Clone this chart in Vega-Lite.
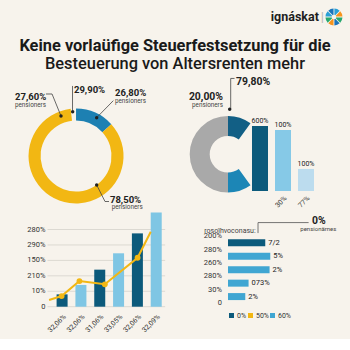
{
"$schema":"https://vega.github.io/schema/vega-lite/v6.json",
"background":"#f7f3ec",
"padding":{"left":5,"top":5,"right":5,"bottom":5},
"config":{"view":{"stroke":null},"font":"Roboto, sans-serif","axis":{"labelColor":"#333333"},"legend":{"labelColor":"#333333"}},
"datasets":{
"one":[{}],
"logo":[{"petal":"1","w":1},{"petal":"2","w":1},{"petal":"3","w":1},{"petal":"4","w":1},{"petal":"5","w":1},{"petal":"6","w":1},{"petal":"7","w":1},{"petal":"8","w":1}],
"donut":[{"slice":1,"part":"blau","share":13.3},{"slice":2,"part":"gelb","share":84.9},{"slice":3,"part":"lücke","share":1.8}],
"cshape":[{"seg":1,"part":"oben","share":10},{"seg":2,"part":"leer","share":30},{"seg":3,"part":"unten","share":10},{"seg":4,"part":"grau","share":50}],
"bars2":[{"tick":" ","value":3.1,"top":"600%"},{"tick":"30%","value":2.9,"top":"100%"},{"tick":"77%","value":1.05,"top":"100%"}],
"grid3":[{"g":0,"t":"0"},{"g":1,"t":"10%"},{"g":2,"t":"210%"},{"g":3,"t":"150%"},{"g":4,"t":"290%"},{"g":5,"t":"280%"}],
"bars3":[{"n":1,"cat":"32,06%","value":0.8,"series":"0%"},{"n":2,"cat":"32,06%","value":1.41,"series":"60%"},{"n":3,"cat":"31,06%","value":2.4,"series":"0%"},{"n":4,"cat":"33,05%","value":3.46,"series":"60%"},{"n":5,"cat":"32,06%","value":4.75,"series":"0%"},{"n":6,"cat":"32,09%","value":6.1,"series":"60%"}],
"line3":[{"x":0.31,"v":0.43},{"x":0.975,"v":0.69},{"x":1.92,"v":1.66},{"x":3.27,"v":1.45},{"x":5.01,"v":3.17},{"x":5.71,"v":4.86}],
"ticks4":[{"tv":0.5,"t":"0"},{"tv":1.5,"t":"30%"},{"tv":2.5,"t":"280%"},{"tv":3.5,"t":"260%"},{"tv":4.5,"t":"280%"},{"tv":5.5,"t":"200%"}],
"bars4":[{"item":5,"value":69,"label":"7/2","series":"0%"},{"item":4,"value":78.3,"label":"5%","series":"60%"},{"item":3,"value":77,"label":"2%","series":"60%"},{"item":2,"value":38.1,"label":"073%","series":"60%"},{"item":1,"value":32,"label":"2%","series":"60%"}]
},
"columns":2,
"align":"none",
"bounds":"flush",
"spacing":{"row":1,"column":60},
"resolve":{"scale":{"color":"independent","x":"independent","y":"independent"},"legend":{"color":"independent"}},
"concat":[
{"width":160,"height":68,"data":{"name":"one"},"layer":[
 {"mark":{"type":"text","text":"Keine vorlaüfige Steuerfestsetzung für die","align":"center","baseline":"alphabetic","fontSize":16.4,"fontWeight":"bold","color":"#1a1a1a"},"encoding":{"x":{"datum":106.25,"scale":{"domain":[0,100],"nice":false,"zero":false},"axis":null},"y":{"datum":32.8,"scale":{"domain":[0,100],"nice":false,"zero":false},"axis":null}}},
 {"mark":{"type":"text","text":"Besteuerung von Altersrenten mehr","align":"center","baseline":"alphabetic","fontSize":16.4,"fontWeight":500,"color":"#1a1a1a"},"encoding":{"x":{"datum":106.25,"scale":{"domain":[0,100],"nice":false,"zero":false},"axis":null},"y":{"datum":5.9,"scale":{"domain":[0,100],"nice":false,"zero":false},"axis":null}}}
]},
{"width":120,"height":68,"data":{"name":"one"},"layer":[
 {"mark":{"type":"text","text":"ignáskat","align":"right","baseline":"alphabetic","fontSize":12.5,"fontWeight":"bold","color":"#1e1e1e"},"encoding":{"x":{"datum":75.8,"scale":{"domain":[0,100],"nice":false,"zero":false},"axis":null},"y":{"datum":76.9,"scale":{"domain":[0,100],"nice":false,"zero":false},"axis":null}}},
 {"mark":{"type":"text","text":"|","align":"center","baseline":"alphabetic","fontSize":13,"color":"#b5b5b5"},"encoding":{"x":{"datum":78.6,"scale":{"domain":[0,100],"nice":false,"zero":false},"axis":null},"y":{"datum":76.5,"scale":{"domain":[0,100],"nice":false,"zero":false},"axis":null}}},
 {"data":{"name":"logo"},"mark":{"type":"arc","outerRadius":8.5,"innerRadius":2.2,"padAngle":0.1},"encoding":{"x":{"datum":88.3,"scale":{"domain":[0,100],"nice":false,"zero":false},"axis":null},"y":{"datum":82.4,"scale":{"domain":[0,100],"nice":false,"zero":false},"axis":null},"theta":{"field":"w","type":"quantitative"},"color":{"field":"petal","type":"nominal","scale":{"range":["#2a9fd6","#f7941d","#27a86f","#1b75bc","#f7941d","#27a86f","#2a9fd6","#1b75bc"]},"legend":null}}}
]},
{"width":160,"height":136,"data":{"name":"one"},"layer":[
 {"data":{"name":"donut"},"mark":{"type":"arc","outerRadius":47.5,"innerRadius":35.5},"encoding":{"x":{"datum":44.4,"scale":{"domain":[0,100],"nice":false,"zero":false},"axis":null},"y":{"datum":39.7,"scale":{"domain":[0,100],"nice":false,"zero":false},"axis":null},"theta":{"field":"share","type":"quantitative"},"order":{"field":"slice","type":"quantitative"},"color":{"field":"part","type":"nominal","scale":{"domain":["blau","gelb","lücke"],"range":["#1d80b2","#f2b713","rgba(0,0,0,0)"]},"legend":null}}},
 {"mark":{"type":"text","text":"27,60%","align":"left","baseline":"alphabetic","fontSize":9.5,"fontWeight":"bold","color":"#222222"},"encoding":{"x":{"datum":6.25,"scale":{"domain":[0,100],"nice":false,"zero":false},"axis":null},"y":{"datum":80.9,"scale":{"domain":[0,100],"nice":false,"zero":false},"axis":null}}},
 {"mark":{"type":"text","text":"pensioners","align":"left","baseline":"alphabetic","fontSize":6.3,"color":"#444444"},"encoding":{"x":{"datum":6.25,"scale":{"domain":[0,100],"nice":false,"zero":false},"axis":null},"y":{"datum":75.7,"scale":{"domain":[0,100],"nice":false,"zero":false},"axis":null}}},
 {"mark":{"type":"rule","color":"#444444","strokeWidth":0.8},"encoding":{"x":{"datum":25.6,"scale":{"domain":[0,100],"nice":false,"zero":false},"axis":null},"y":{"datum":85.3,"scale":{"domain":[0,100],"nice":false,"zero":false},"axis":null},"x2":{"datum":29.4},"y2":{"datum":85.3}}},
 {"mark":{"type":"rule","color":"#444444","strokeWidth":0.8},"encoding":{"x":{"datum":29.4,"scale":{"domain":[0,100],"nice":false,"zero":false},"axis":null},"y":{"datum":85.3,"scale":{"domain":[0,100],"nice":false,"zero":false},"axis":null},"x2":{"datum":35},"y2":{"datum":69.1}}},
 {"mark":{"type":"circle","size":12,"color":"#222222","opacity":1},"encoding":{"x":{"datum":35,"scale":{"domain":[0,100],"nice":false,"zero":false},"axis":null},"y":{"datum":69.1,"scale":{"domain":[0,100],"nice":false,"zero":false},"axis":null}}},
 {"mark":{"type":"text","text":"29,90%","align":"left","baseline":"alphabetic","fontSize":9.5,"fontWeight":"bold","color":"#222222"},"encoding":{"x":{"datum":43.1,"scale":{"domain":[0,100],"nice":false,"zero":false},"axis":null},"y":{"datum":86.25,"scale":{"domain":[0,100],"nice":false,"zero":false},"axis":null}}},
 {"mark":{"type":"rule","color":"#444444","strokeWidth":0.8},"encoding":{"x":{"datum":42.2,"scale":{"domain":[0,100],"nice":false,"zero":false},"axis":null},"y":{"datum":91.2,"scale":{"domain":[0,100],"nice":false,"zero":false},"axis":null},"x2":{"datum":42.2},"y2":{"datum":73.5}}},
 {"mark":{"type":"circle","size":12,"color":"#222222","opacity":1},"encoding":{"x":{"datum":42.3,"scale":{"domain":[0,100],"nice":false,"zero":false},"axis":null},"y":{"datum":72.3,"scale":{"domain":[0,100],"nice":false,"zero":false},"axis":null}}},
 {"mark":{"type":"text","text":"26,80%","align":"left","baseline":"alphabetic","fontSize":9.5,"fontWeight":"bold","color":"#222222"},"encoding":{"x":{"datum":68.75,"scale":{"domain":[0,100],"nice":false,"zero":false},"axis":null},"y":{"datum":83.8,"scale":{"domain":[0,100],"nice":false,"zero":false},"axis":null}}},
 {"mark":{"type":"text","text":"pensioners","align":"left","baseline":"alphabetic","fontSize":6.3,"color":"#444444"},"encoding":{"x":{"datum":68.75,"scale":{"domain":[0,100],"nice":false,"zero":false},"axis":null},"y":{"datum":79.0,"scale":{"domain":[0,100],"nice":false,"zero":false},"axis":null}}},
 {"mark":{"type":"rule","color":"#444444","strokeWidth":0.8},"encoding":{"x":{"datum":67.7,"scale":{"domain":[0,100],"nice":false,"zero":false},"axis":null},"y":{"datum":80.4,"scale":{"domain":[0,100],"nice":false,"zero":false},"axis":null},"x2":{"datum":57.3},"y2":{"datum":67.9}}},
 {"mark":{"type":"circle","size":12,"color":"#222222","opacity":1},"encoding":{"x":{"datum":57.3,"scale":{"domain":[0,100],"nice":false,"zero":false},"axis":null},"y":{"datum":67.9,"scale":{"domain":[0,100],"nice":false,"zero":false},"axis":null}}},
 {"mark":{"type":"text","text":"78,50%","align":"left","baseline":"alphabetic","fontSize":9.5,"fontWeight":"bold","color":"#222222"},"encoding":{"x":{"datum":65.6,"scale":{"domain":[0,100],"nice":false,"zero":false},"axis":null},"y":{"datum":5.4,"scale":{"domain":[0,100],"nice":false,"zero":false},"axis":null}}},
 {"mark":{"type":"text","text":"pensioners","align":"left","baseline":"alphabetic","fontSize":6.3,"color":"#444444"},"encoding":{"x":{"datum":66.7,"scale":{"domain":[0,100],"nice":false,"zero":false},"axis":null},"y":{"datum":0.4,"scale":{"domain":[0,100],"nice":false,"zero":false},"axis":null}}},
 {"mark":{"type":"rule","color":"#444444","strokeWidth":0.8},"encoding":{"x":{"datum":57.3,"scale":{"domain":[0,100],"nice":false,"zero":false},"axis":null},"y":{"datum":18.4,"scale":{"domain":[0,100],"nice":false,"zero":false},"axis":null},"x2":{"datum":62.5},"y2":{"datum":6.25}}},
 {"mark":{"type":"rule","color":"#444444","strokeWidth":0.8},"encoding":{"x":{"datum":62.5,"scale":{"domain":[0,100],"nice":false,"zero":false},"axis":null},"y":{"datum":6.25,"scale":{"domain":[0,100],"nice":false,"zero":false},"axis":null},"x2":{"datum":65},"y2":{"datum":6.25}}},
 {"mark":{"type":"circle","size":12,"color":"#222222","opacity":1},"encoding":{"x":{"datum":57.3,"scale":{"domain":[0,100],"nice":false,"zero":false},"axis":null},"y":{"datum":18.4,"scale":{"domain":[0,100],"nice":false,"zero":false},"axis":null}}}
]},
{"width":87,"height":117,"data":{"name":"one"},"layer":[
 {"data":{"name":"bars2"},
  "encoding":{"x":{"field":"tick","type":"nominal","sort":null,"scale":{"domain":["  "," ","30%","77%"],"paddingInner":0.304,"paddingOuter":0.043},"axis":{"title":null,"labelAngle":-45,"labelFontSize":7,"ticks":false,"domain":false,"labelPadding":3}},
              "y":{"field":"value","type":"quantitative","scale":{"domain":[0,5.571],"nice":false,"zero":false},"axis":{"title":null,"values":[0,1,2,3,4],"labels":false,"ticks":false,"domain":false,"grid":true,"gridColor":"#dedbd4"}}},
  "layer":[
   {"mark":{"type":"bar"},"encoding":{"color":{"field":"tick","type":"nominal","scale":{"domain":[" ","30%","77%"],"range":["#0c5a7b","#86c9e7","#bcdcee"]},"legend":null}}},
   {"mark":{"type":"text","dy":-3,"fontSize":7,"color":"#222222","baseline":"alphabetic"},"encoding":{"text":{"field":"top"}}}
  ]},
 {"data":{"name":"cshape"},"mark":{"type":"arc","outerRadius":38.3,"innerRadius":18.3},"encoding":{"x":{"datum":0,"scale":{"domain":[0,100],"nice":false,"zero":false},"axis":null},"y":{"datum":1.75,"scale":{"domain":[0,5.571],"nice":false,"zero":false},"axis":null},"theta":{"field":"share","type":"quantitative"},"order":{"field":"seg","type":"quantitative"},"color":{"field":"part","type":"nominal","scale":{"domain":["oben","leer","unten","grau"],"range":["#125f85","rgba(0,0,0,0)","#1c86b6","#a9a9a9"]},"legend":null}}},
 {"mark":{"type":"text","text":"79,80%","align":"left","baseline":"alphabetic","fontSize":10.4,"fontWeight":"bold","color":"#222222"},"encoding":{"x":{"datum":9.2,"scale":{"domain":[0,100],"nice":false,"zero":false},"axis":null},"y":{"datum":5.05,"scale":{"domain":[0,5.571],"nice":false,"zero":false},"axis":null}}},
 {"mark":{"type":"rule","color":"#444444","strokeWidth":0.8},"encoding":{"x":{"datum":3.1,"scale":{"domain":[0,100],"nice":false,"zero":false},"axis":null},"y":{"datum":5.36,"scale":{"domain":[0,5.571],"nice":false,"zero":false},"axis":null},"x2":{"datum":3.1},"y2":{"datum":3.9}}},
 {"mark":{"type":"rule","color":"#444444","strokeWidth":0.8},"encoding":{"x":{"datum":3.1,"scale":{"domain":[0,100],"nice":false,"zero":false},"axis":null},"y":{"datum":5.36,"scale":{"domain":[0,5.571],"nice":false,"zero":false},"axis":null},"x2":{"datum":7.5},"y2":{"datum":5.36}}},
 {"mark":{"type":"circle","size":12,"color":"#222222","opacity":1},"encoding":{"x":{"datum":1.95,"scale":{"domain":[0,100],"nice":false,"zero":false},"axis":null},"y":{"datum":3.89,"scale":{"domain":[0,5.571],"nice":false,"zero":false},"axis":null}}},
 {"mark":{"type":"text","text":"20,00%","align":"right","baseline":"alphabetic","fontSize":10.4,"fontWeight":"bold","color":"#222222"},"encoding":{"x":{"datum":-5.75,"scale":{"domain":[0,100],"nice":false,"zero":false},"axis":null},"y":{"datum":4.33,"scale":{"domain":[0,5.571],"nice":false,"zero":false},"axis":null}}},
 {"mark":{"type":"text","text":"pensioners","align":"right","baseline":"alphabetic","fontSize":6.3,"color":"#444444"},"encoding":{"x":{"datum":-5.75,"scale":{"domain":[0,100],"nice":false,"zero":false},"axis":null},"y":{"datum":4.02,"scale":{"domain":[0,5.571],"nice":false,"zero":false},"axis":null}}}
],
"resolve":{"scale":{"x":"independent","color":"independent"},"axis":{"x":"independent"}}},
{"width":162.7,"height":95.7,"layer":[
 {"data":{"name":"grid3"},"mark":{"type":"rule","color":"#dcd9d2","strokeWidth":1},"encoding":{"y":{"field":"g","type":"quantitative","scale":{"domain":[0,6.2],"nice":false,"zero":false},"axis":null},"x":{"datum":0.225,"scale":{"domain":[-1.767,6.344],"nice":false,"zero":false},"axis":null},"x2":{"datum":6.475}}},
 {"data":{"name":"grid3"},"mark":{"type":"text","align":"right","baseline":"middle","dx":-2,"fontSize":7.5,"color":"#333333"},"encoding":{"y":{"field":"g","type":"quantitative","scale":{"domain":[0,6.2],"nice":false,"zero":false},"axis":null},"x":{"datum":0.225,"scale":{"domain":[-1.767,6.344],"nice":false,"zero":false},"axis":null},"text":{"field":"t"}}},
 {"data":{"name":"bars3"},"mark":{"type":"bar","size":11},
  "encoding":{"x":{"field":"n","type":"quantitative","scale":{"domain":[-1.767,6.344],"nice":false,"zero":false},"axis":null},
              "y":{"field":"value","type":"quantitative","scale":{"domain":[0,6.2],"nice":false,"zero":false},"axis":null},
              "color":{"field":"series","type":"nominal","scale":{"domain":["0%","60%"],"range":["#0c5a7b","#7fc6e4"]},"legend":null}}},
 {"data":{"name":"bars3"},"mark":{"type":"text","angle":315,"align":"right","baseline":"top","fontSize":7,"color":"#333333"},
  "encoding":{"x":{"field":"n","type":"quantitative","scale":{"domain":[-1.767,6.344],"nice":false,"zero":false},"axis":null},"y":{"datum":-0.4,"scale":{"domain":[0,6.2],"nice":false,"zero":false},"axis":null},"text":{"field":"cat"}}},
 {"data":{"name":"line3"},"mark":{"type":"line","color":"#f2b713","strokeWidth":2},"encoding":{"x":{"field":"x","type":"quantitative","scale":{"domain":[-1.767,6.344],"nice":false,"zero":false},"axis":null},"y":{"field":"v","type":"quantitative","scale":{"domain":[0,6.2],"nice":false,"zero":false},"axis":null}}},
 {"data":{"name":"line3"},"transform":[{"filter":"datum.x > 0.9 && datum.x < 5.2"}],"mark":{"type":"circle","size":34,"color":"#f2b713","opacity":1},"encoding":{"x":{"field":"x","type":"quantitative","scale":{"domain":[-1.767,6.344],"nice":false,"zero":false},"axis":null},"y":{"field":"v","type":"quantitative","scale":{"domain":[0,6.2],"nice":false,"zero":false},"axis":null}}}
]},
{"width":54,"height":97.3,"data":{"name":"one"},"layer":[
 {"data":{"name":"bars4"},
  "encoding":{"y":{"field":"item","type":"quantitative","scale":{"domain":[0.5,7.0],"nice":false,"zero":false},"axis":{"title":null,"values":[0.5,1.5,2.5,3.5,4.5,5.5],"labels":false,"ticks":false,"domain":true,"domainColor":"#d6d3cc","grid":true,"gridColor":"#dcd9d2"}},
              "x":{"field":"value","type":"quantitative","scale":{"domain":[0,100],"nice":false,"zero":false},"axis":null}},
  "layer":[
   {"mark":{"type":"bar","orient":"horizontal","size":7},"encoding":{"color":{"field":"series","type":"nominal","scale":{"domain":["0%","50%","60%"],"range":["#0c5a7b","#f2b713","#40a6d2"]},"legend":{"orient":"bottom","direction":"horizontal","title":null,"symbolType":"square","symbolSize":25,"labelFontSize":7,"offset":3,"columnPadding":0,"labelOffset":2,"gridAlign":"none"}}}},
   {"mark":{"type":"text","align":"left","dx":3,"fontSize":7.5,"color":"#222222","baseline":"middle"},"encoding":{"text":{"field":"label"}}}
  ]},
 {"data":{"name":"ticks4"},"mark":{"type":"text","align":"right","baseline":"middle","dx":-6,"fontSize":7.5,"color":"#333333"},"encoding":{"y":{"field":"tv","type":"quantitative","scale":{"domain":[0.5,7.0],"nice":false,"zero":false},"axis":null},"x":{"datum":0,"scale":{"domain":[0,100],"nice":false,"zero":false},"axis":null},"text":{"field":"t"}}},
 {"mark":{"type":"text","text":"rosoïhvoconasu:","align":"left","baseline":"alphabetic","fontSize":7,"color":"#444444"},"encoding":{"x":{"datum":-43.9,"scale":{"domain":[0,100],"nice":false,"zero":false},"axis":null},"y":{"datum":5.76,"scale":{"domain":[0.5,7.0],"nice":false,"zero":false},"axis":null}}},
 {"mark":{"type":"text","text":"0%","align":"left","baseline":"alphabetic","fontSize":10.4,"fontWeight":"bold","color":"#222222"},"encoding":{"x":{"datum":155.6,"scale":{"domain":[0,100],"nice":false,"zero":false},"axis":null},"y":{"datum":6.4,"scale":{"domain":[0.5,7.0],"nice":false,"zero":false},"axis":null}}},
 {"mark":{"type":"text","text":"pensionärnes","align":"left","baseline":"alphabetic","fontSize":6,"color":"#444444"},"encoding":{"x":{"datum":133.9,"scale":{"domain":[0,100],"nice":false,"zero":false},"axis":null},"y":{"datum":5.86,"scale":{"domain":[0.5,7.0],"nice":false,"zero":false},"axis":null}}},
 {"mark":{"type":"rule","color":"#555555","strokeWidth":0.8},"encoding":{"x":{"datum":55.6,"scale":{"domain":[0,100],"nice":false,"zero":false},"axis":null},"y":{"datum":6.51,"scale":{"domain":[0.5,7.0],"nice":false,"zero":false},"axis":null},"x2":{"datum":149.3},"y2":{"datum":6.51}}},
 {"mark":{"type":"rule","color":"#555555","strokeWidth":0.8},"encoding":{"x":{"datum":55.6,"scale":{"domain":[0,100],"nice":false,"zero":false},"axis":null},"y":{"datum":6.51,"scale":{"domain":[0.5,7.0],"nice":false,"zero":false},"axis":null},"x2":{"datum":55.6},"y2":{"datum":5.73}}}
]}
]
}
